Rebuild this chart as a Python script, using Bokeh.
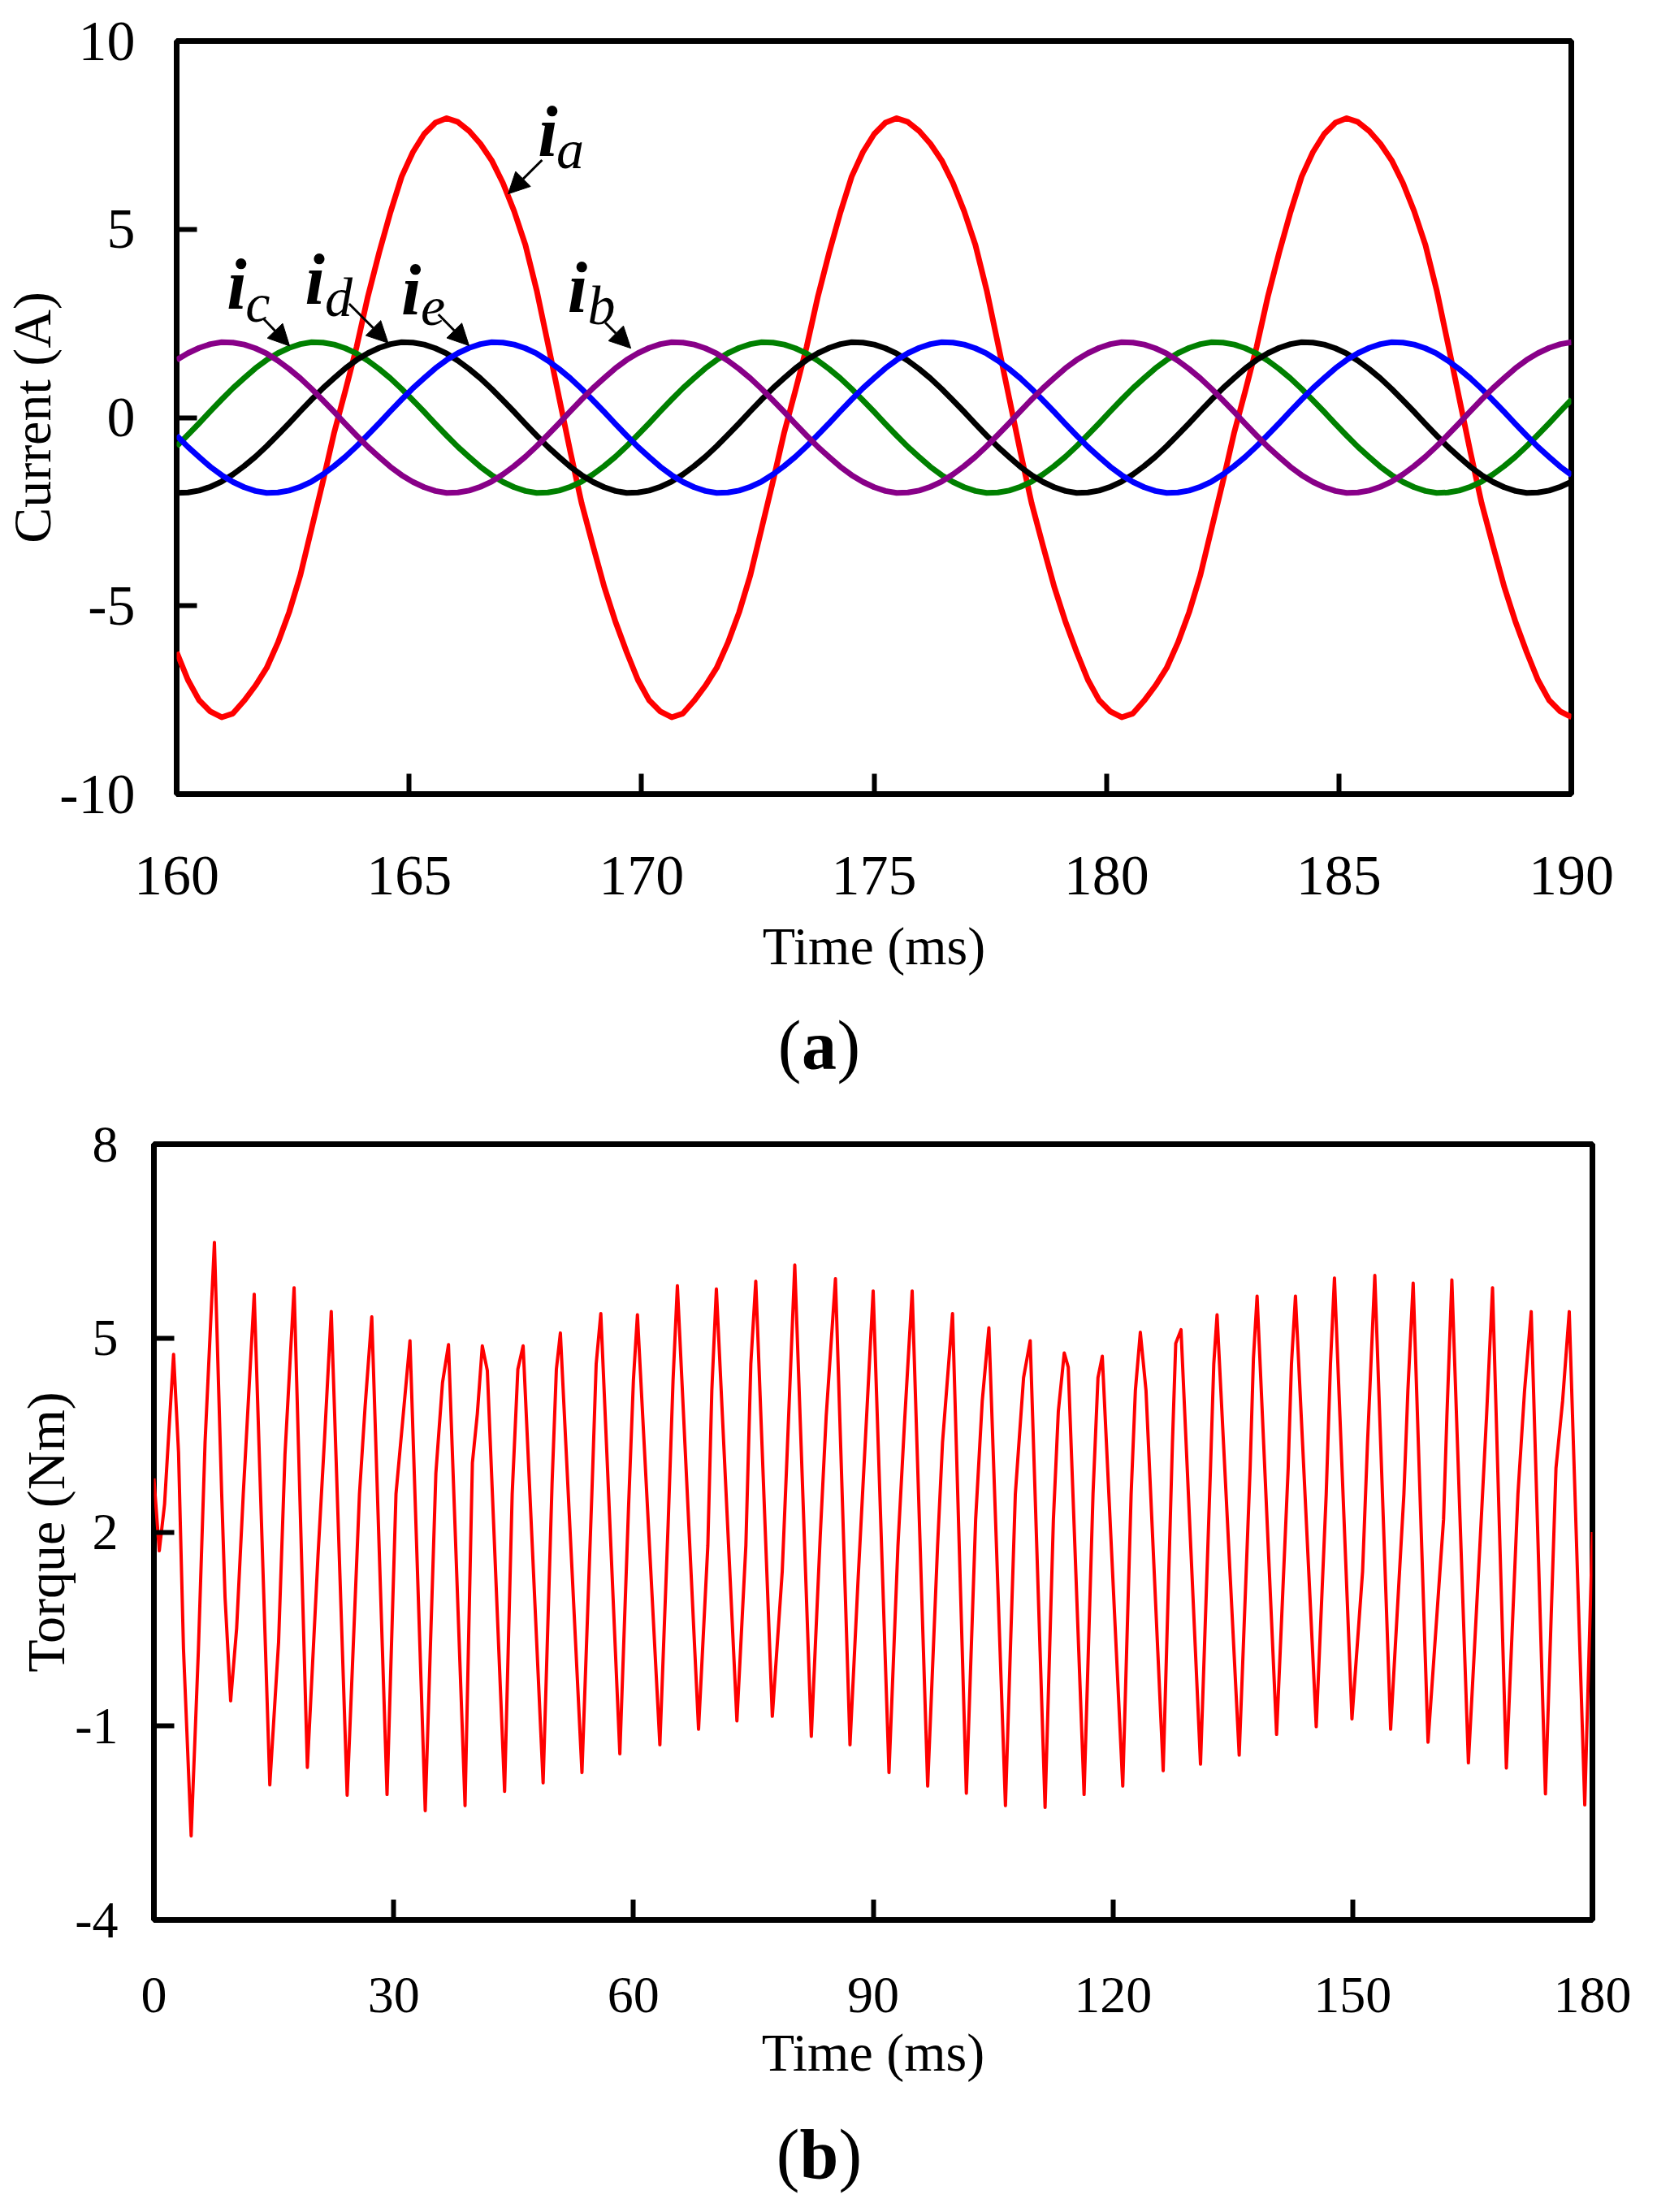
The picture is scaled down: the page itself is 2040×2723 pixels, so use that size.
"""
Five-phase machine: phase currents (a) and electromagnetic torque (b),
drawn as stacked Bokeh roots and written to out.html.
"""

from bokeh.core.properties import value
from bokeh.embed import file_html
from bokeh.models import Arrow, FixedTicker, Label, NormalHead, Range1d
from bokeh.plotting import figure
from bokeh.resources import INLINE

FONT = "Liberation Serif"
PAGE_W = 2024

# ---------------------------------------------------------------------------
# (a) phase currents, read every 0.242 ms off the trace
# ---------------------------------------------------------------------------
time_a = [
    160.000, 160.242, 160.484, 160.726, 160.968, 161.210, 161.452, 161.694, 161.936, 162.178,
    162.420, 162.662, 162.904, 163.146, 163.388, 163.630, 163.872, 164.114, 164.356, 164.598,
    164.840, 165.082, 165.324, 165.566, 165.808, 166.050, 166.292, 166.534, 166.776, 167.018,
    167.260, 167.502, 167.744, 167.986, 168.228, 168.470, 168.712, 168.954, 169.196, 169.438,
    169.680, 169.922, 170.164, 170.406, 170.648, 170.890, 171.132, 171.374, 171.616, 171.858,
    172.100, 172.342, 172.584, 172.826, 173.068, 173.310, 173.552, 173.794, 174.036, 174.278,
    174.520, 174.762, 175.004, 175.246, 175.488, 175.730, 175.972, 176.214, 176.456, 176.698,
    176.940, 177.182, 177.424, 177.666, 177.908, 178.150, 178.392, 178.634, 178.876, 179.118,
    179.360, 179.602, 179.844, 180.086, 180.328, 180.570, 180.812, 181.054, 181.296, 181.538,
    181.780, 182.022, 182.264, 182.506, 182.748, 182.990, 183.232, 183.474, 183.716, 183.958,
    184.200, 184.442, 184.684, 184.926, 185.168, 185.410, 185.652, 185.894, 186.136, 186.378,
    186.620, 186.862, 187.104, 187.346, 187.588, 187.830, 188.072, 188.314, 188.556, 188.798,
    189.040, 189.282, 189.524, 189.766, 190.008,
]
i_a = [
    -6.23, -6.97, -7.51, -7.81, -7.96, -7.86, -7.52, -7.12, -6.65, -5.98,
    -5.17, -4.18, -2.94, -1.70, -0.40, 0.72, 1.88, 3.22, 4.38, 5.45,
    6.40, 7.05, 7.53, 7.83, 7.95, 7.85, 7.61, 7.27, 6.83, 6.23,
    5.48, 4.58, 3.38, 1.96, 0.52, -0.92, -2.28, -3.40, -4.49, -5.42,
    -6.23, -6.97, -7.51, -7.81, -7.96, -7.86, -7.52, -7.12, -6.65, -5.98,
    -5.17, -4.18, -2.94, -1.70, -0.40, 0.72, 1.88, 3.22, 4.38, 5.45,
    6.40, 7.05, 7.53, 7.83, 7.95, 7.85, 7.61, 7.27, 6.83, 6.23,
    5.48, 4.58, 3.38, 1.96, 0.52, -0.92, -2.28, -3.40, -4.49, -5.42,
    -6.23, -6.97, -7.51, -7.81, -7.96, -7.86, -7.52, -7.12, -6.65, -5.98,
    -5.17, -4.18, -2.94, -1.70, -0.40, 0.72, 1.88, 3.22, 4.38, 5.45,
    6.40, 7.05, 7.53, 7.83, 7.95, 7.85, 7.61, 7.27, 6.83, 6.23,
    5.48, 4.58, 3.38, 1.96, 0.52, -0.92, -2.28, -3.40, -4.49, -5.42,
    -6.23, -6.97, -7.51, -7.81, -7.96,
]
i_b = [
    1.53, 1.71, 1.85, 1.95, 2.00, 1.99, 1.94, 1.84, 1.70, 1.51,
    1.29, 1.04, 0.76, 0.46, 0.15, -0.17, -0.48, -0.78, -1.05, -1.31,
    -1.53, -1.71, -1.85, -1.95, -2.00, -1.99, -1.94, -1.84, -1.70, -1.51,
    -1.29, -1.04, -0.76, -0.46, -0.15, 0.17, 0.48, 0.78, 1.05, 1.31,
    1.53, 1.71, 1.85, 1.95, 2.00, 1.99, 1.94, 1.84, 1.70, 1.51,
    1.29, 1.04, 0.76, 0.46, 0.15, -0.17, -0.48, -0.78, -1.05, -1.31,
    -1.53, -1.71, -1.85, -1.95, -2.00, -1.99, -1.94, -1.84, -1.70, -1.51,
    -1.29, -1.04, -0.76, -0.46, -0.15, 0.17, 0.48, 0.78, 1.05, 1.31,
    1.53, 1.71, 1.85, 1.95, 2.00, 1.99, 1.94, 1.84, 1.70, 1.51,
    1.29, 1.04, 0.76, 0.46, 0.15, -0.17, -0.48, -0.78, -1.05, -1.31,
    -1.53, -1.71, -1.85, -1.95, -2.00, -1.99, -1.94, -1.84, -1.70, -1.51,
    -1.29, -1.04, -0.76, -0.46, -0.15, 0.17, 0.48, 0.78, 1.05, 1.31,
    1.53, 1.71, 1.85, 1.95, 2.00,
]
i_c = [
    -0.76, -0.46, -0.15, 0.17, 0.48, 0.78, 1.05, 1.31, 1.53, 1.71,
    1.85, 1.95, 2.00, 1.99, 1.94, 1.84, 1.70, 1.51, 1.29, 1.04,
    0.76, 0.46, 0.15, -0.17, -0.48, -0.78, -1.05, -1.31, -1.53, -1.71,
    -1.85, -1.95, -2.00, -1.99, -1.94, -1.84, -1.70, -1.51, -1.29, -1.04,
    -0.76, -0.46, -0.15, 0.17, 0.48, 0.78, 1.05, 1.31, 1.53, 1.71,
    1.85, 1.95, 2.00, 1.99, 1.94, 1.84, 1.70, 1.51, 1.29, 1.04,
    0.76, 0.46, 0.15, -0.17, -0.48, -0.78, -1.05, -1.31, -1.53, -1.71,
    -1.85, -1.95, -2.00, -1.99, -1.94, -1.84, -1.70, -1.51, -1.29, -1.04,
    -0.76, -0.46, -0.15, 0.17, 0.48, 0.78, 1.05, 1.31, 1.53, 1.71,
    1.85, 1.95, 2.00, 1.99, 1.94, 1.84, 1.70, 1.51, 1.29, 1.04,
    0.76, 0.46, 0.15, -0.17, -0.48, -0.78, -1.05, -1.31, -1.53, -1.71,
    -1.85, -1.95, -2.00, -1.99, -1.94, -1.84, -1.70, -1.51, -1.29, -1.04,
    -0.76, -0.46, -0.15, 0.17, 0.48,
]
i_d = [
    -2.00, -1.99, -1.94, -1.84, -1.70, -1.51, -1.29, -1.04, -0.76, -0.46,
    -0.15, 0.17, 0.48, 0.78, 1.05, 1.31, 1.53, 1.71, 1.85, 1.95,
    2.00, 1.99, 1.94, 1.84, 1.70, 1.51, 1.29, 1.04, 0.76, 0.46,
    0.15, -0.17, -0.48, -0.78, -1.05, -1.31, -1.53, -1.71, -1.85, -1.95,
    -2.00, -1.99, -1.94, -1.84, -1.70, -1.51, -1.29, -1.04, -0.76, -0.46,
    -0.15, 0.17, 0.48, 0.78, 1.05, 1.31, 1.53, 1.71, 1.85, 1.95,
    2.00, 1.99, 1.94, 1.84, 1.70, 1.51, 1.29, 1.04, 0.76, 0.46,
    0.15, -0.17, -0.48, -0.78, -1.05, -1.31, -1.53, -1.71, -1.85, -1.95,
    -2.00, -1.99, -1.94, -1.84, -1.70, -1.51, -1.29, -1.04, -0.76, -0.46,
    -0.15, 0.17, 0.48, 0.78, 1.05, 1.31, 1.53, 1.71, 1.85, 1.95,
    2.00, 1.99, 1.94, 1.84, 1.70, 1.51, 1.29, 1.04, 0.76, 0.46,
    0.15, -0.17, -0.48, -0.78, -1.05, -1.31, -1.53, -1.71, -1.85, -1.95,
    -2.00, -1.99, -1.94, -1.84, -1.70,
]
i_e = [
    -0.48, -0.78, -1.05, -1.31, -1.53, -1.71, -1.85, -1.95, -2.00, -1.99,
    -1.94, -1.84, -1.70, -1.51, -1.29, -1.04, -0.76, -0.46, -0.15, 0.17,
    0.48, 0.78, 1.05, 1.31, 1.53, 1.71, 1.85, 1.95, 2.00, 1.99,
    1.94, 1.84, 1.70, 1.51, 1.29, 1.04, 0.76, 0.46, 0.15, -0.17,
    -0.48, -0.78, -1.05, -1.31, -1.53, -1.71, -1.85, -1.95, -2.00, -1.99,
    -1.94, -1.84, -1.70, -1.51, -1.29, -1.04, -0.76, -0.46, -0.15, 0.17,
    0.48, 0.78, 1.05, 1.31, 1.53, 1.71, 1.85, 1.95, 2.00, 1.99,
    1.94, 1.84, 1.70, 1.51, 1.29, 1.04, 0.76, 0.46, 0.15, -0.17,
    -0.48, -0.78, -1.05, -1.31, -1.53, -1.71, -1.85, -1.95, -2.00, -1.99,
    -1.94, -1.84, -1.70, -1.51, -1.29, -1.04, -0.76, -0.46, -0.15, 0.17,
    0.48, 0.78, 1.05, 1.31, 1.53, 1.71, 1.85, 1.95, 2.00, 1.99,
    1.94, 1.84, 1.70, 1.51, 1.29, 1.04, 0.76, 0.46, 0.15, -0.17,
    -0.48, -0.78, -1.05, -1.31, -1.53,
]
x_ticks_a = [160, 165, 170, 175, 180, 185, 190]
y_ticks_a = [-10, -5, 0, 5, 10]

# ---------------------------------------------------------------------------
# (b) torque: extrema and visible shoulders of the trace
# ---------------------------------------------------------------------------
time_b = [
    0.00, 0.67, 1.33, 1.83, 2.46, 3.08, 3.70, 4.66, 5.57, 6.40,
    7.57, 8.48, 8.90, 9.60, 10.35, 11.18, 12.55, 14.50, 15.60, 16.40,
    17.54, 19.20, 20.53, 21.36, 22.19, 24.18, 25.72, 26.43, 27.26, 29.17,
    30.29, 31.12, 32.04, 33.95, 35.28, 36.11, 36.86, 38.93, 39.85, 40.47,
    41.09, 41.72, 43.88, 44.83, 45.54, 46.20, 48.70, 49.82, 50.36, 50.86,
    53.56, 54.80, 55.34, 55.92, 58.30, 59.38, 60.00, 60.50, 63.31, 64.34,
    64.96, 65.50, 68.15, 69.31, 69.81, 70.38, 72.95, 74.07, 74.69, 75.31,
    77.38, 78.62, 79.16, 80.19, 82.26, 83.38, 84.12, 85.28, 87.10, 88.13,
    88.84, 90.00, 91.98, 93.10, 93.93, 94.88, 96.82, 98.06, 98.68, 99.93,
    101.66, 102.82, 103.65, 104.48, 106.55, 107.79, 108.82, 109.65, 111.51, 112.55,
    113.17, 113.91, 114.41, 116.39, 117.51, 118.13, 118.67, 121.23, 122.28, 122.81,
    123.43, 124.14, 126.29, 127.45, 127.86, 128.52, 130.96, 132.21, 132.62, 133.03,
    135.80, 137.17, 137.58, 138.04, 140.48, 141.93, 142.34, 142.84, 145.44, 146.69,
    147.22, 147.72, 149.91, 151.24, 151.86, 152.77, 154.75, 156.41, 156.91, 157.57,
    159.43, 161.37, 161.79, 162.41, 164.48, 165.92, 166.75, 167.50, 169.23, 170.68,
    171.51, 172.34, 174.12, 175.44, 176.27, 177.10, 179.04, 180.00,
]
torque_b = [
    2.83, 1.71, 2.43, 3.47, 4.75, 3.23, 0.19, -2.70, 0.19, 3.39,
    6.48, 2.59, 0.99, -0.61, 0.51, 2.59, 5.68, -1.91, 0.30, 3.20,
    5.78, -1.64, 1.63, 3.47, 5.41, -2.07, 2.59, 3.95, 5.33, -2.06,
    2.59, 3.71, 4.96, -2.31, 2.91, 4.31, 4.90, -2.23, 3.07, 3.83,
    4.88, 4.50, -2.01, 2.59, 4.52, 4.88, -1.88, 2.75, 4.52, 5.08,
    -1.72, 2.59, 4.60, 5.38, -1.43, 2.35, 4.35, 5.36, -1.29, 2.11,
    4.35, 5.81, -1.05, 1.79, 4.19, 5.76, -0.92, 1.79, 4.60, 5.88,
    -0.85, 1.39, 2.99, 6.13, -1.16, 1.95, 3.79, 5.92, -1.29, 1.31,
    2.99, 5.73, -1.72, 1.79, 3.71, 5.73, -1.93, 1.79, 3.39, 5.38,
    -2.04, 2.19, 4.03, 5.16, -2.23, 2.59, 4.39, 4.96, -2.26, 2.19,
    3.87, 4.77, 4.55, -2.06, 2.59, 4.39, 4.72, -1.93, 2.59, 4.19,
    5.09, 4.19, -1.69, 3.39, 4.92, 5.13, -1.59, 2.99, 4.60, 5.36,
    -1.45, 2.99, 4.68, 5.65, -1.13, 2.99, 4.60, 5.65, -1.01, 2.59,
    4.60, 5.93, -0.89, 1.39, 3.39, 5.97, -1.05, 2.59, 4.19, 5.85,
    -1.25, 2.19, 3.79, 5.90, -1.57, 1.79, 3.79, 5.78, -1.65, 2.59,
    4.19, 5.41, -2.05, 2.99, 4.03, 5.41, -2.22, 2.00,
]
x_ticks_b = [0, 30, 60, 90, 120, 150, 180]
y_ticks_b = [-4, -1, 2, 5, 8]


# ---------------------------------------------------------------------------
# Helpers
# ---------------------------------------------------------------------------

def _labels(ticks):
    # plain hyphen for negatives, as on the original axes
    return {t: str(t) for t in ticks}


def _style(fig, x_ticks, y_ticks, tick_size, x_standoff, x_label_standoff,
           y_standoff, y_label_standoff):
    fig.grid.visible = False
    fig.background_fill_color = "white"
    fig.border_fill_color = "white"
    fig.outline_line_color = "black"
    fig.outline_line_width = 7
    fig.xaxis.ticker = FixedTicker(ticks=x_ticks)
    fig.yaxis.ticker = FixedTicker(ticks=y_ticks)
    fig.xaxis.major_label_overrides = _labels(x_ticks)
    fig.yaxis.major_label_overrides = _labels(y_ticks)
    for ax in (fig.xaxis, fig.yaxis):
        ax.axis_line_color = None
        ax.major_tick_in = 25
        ax.major_tick_out = 0
        ax.major_tick_line_width = 6
        ax.major_tick_line_color = "black"
        ax.minor_tick_line_color = None
        ax.major_label_text_font = FONT
        ax.major_label_text_font_size = tick_size
        ax.major_label_text_color = "black"
        ax.axis_label_text_font = FONT
        ax.axis_label_text_font_size = "66px"
        ax.axis_label_text_font_style = "normal"
        ax.axis_label_text_color = "black"
    fig.xaxis.major_label_standoff = x_standoff
    fig.xaxis.axis_label_standoff = x_label_standoff
    fig.yaxis.major_label_standoff = y_standoff
    fig.yaxis.axis_label_standoff = y_label_standoff


def _phase_tag(fig, ix, iy, sub, sx, sy, arrow):
    # iy / sy are the vertical middles of the glyphs
    fig.add_layout(Label(x=ix, y=iy, text="i", text_font=FONT,
                         text_font_size="88px", text_font_style="bold italic",
                         text_color="black", text_baseline="middle"))
    fig.add_layout(Label(x=sx, y=sy, text=sub, text_font=FONT,
                         text_font_size="68px", text_font_style="italic",
                         text_color="black", text_baseline="middle"))
    x0, y0, x1, y1 = arrow
    fig.add_layout(Arrow(
        end=NormalHead(size=26, line_color="black", fill_color="black",
                       line_width=1),
        x_start=x0, y_start=y0, x_end=x1, y_end=y1,
        line_color="black", line_width=3,
    ))


def build_currents():
    p = figure(
        width=PAGE_W, height=1232,
        x_range=Range1d(160, 190), y_range=Range1d(-10, 10),
        x_axis_label="Time (ms)", y_axis_label="Current (A)",
        min_border_left=210, min_border_right=90,
        min_border_top=50, min_border_bottom=255,
        output_backend="svg", toolbar_location=None,
    )
    _style(p, x_ticks_a, y_ticks_a, "70px", x_standoff=77, x_label_standoff=24,
           y_standoff=51, y_label_standoff=-6)

    p.line(time_a, i_a, line_color="#ff0000", line_width=7, line_join="round")
    p.line(time_a, i_c, line_color="#008000", line_width=7, line_join="round")
    p.line(time_a, i_d, line_color="black", line_width=7, line_join="round")
    p.line(time_a, i_e, line_color="#0000ff", line_width=7, line_join="round")
    p.line(time_a, i_b, line_color="#880088", line_width=7, line_join="round")

    _phase_tag(p, 167.77, 7.58, "a", 168.17, 7.11, (167.86, 6.84, 167.13, 5.94))
    _phase_tag(p, 161.08, 3.53, "c", 161.48, 3.05, (161.87, 2.62, 162.43, 1.90))
    _phase_tag(p, 162.76, 3.66, "d", 163.19, 3.19, (163.71, 3.02, 164.55, 1.98))
    _phase_tag(p, 164.83, 3.38, "e", 165.25, 2.94, (165.63, 2.74, 166.29, 1.91))
    _phase_tag(p, 168.41, 3.45, "b", 168.84, 2.98, (169.22, 2.52, 169.77, 1.84))
    return p


def build_torque():
    p = figure(
        width=PAGE_W, height=1220,
        x_range=Range1d(0, 180), y_range=Range1d(-4, 8),
        x_axis_label="Time (ms)", y_axis_label="Torque (Nm)",
        min_border_left=189, min_border_right=64,
        min_border_top=46, min_border_bottom=219,
        output_backend="svg", toolbar_location=None,
    )
    _style(p, x_ticks_b, y_ticks_b, "64px", x_standoff=71, x_label_standoff=10,
           y_standoff=44, y_label_standoff=-4)

    p.line(time_b, torque_b, line_color="#ff0000", line_width=4,
           line_join="round")
    return p


def build_caption(letter, height, middle, half):
    # "(a)" / "(b)" under each panel: bold letter, plain brackets
    p = figure(
        width=PAGE_W, height=height,
        x_range=Range1d(0, PAGE_W), y_range=Range1d(0, height),
        x_axis_location=None, y_axis_location=None, min_border=0,
        output_backend="svg", toolbar_location=None,
    )
    p.grid.visible = False
    p.outline_line_color = None
    common = dict(y=[middle], text_font=value(FONT), text_font_size="86px",
                  text_color="black", text_baseline="middle")
    cx = 1008
    p.text(x=[cx - half], text=["("], text_align="right", **common)
    p.text(x=[cx], text=[letter], text_align="center", text_font_style="bold",
           **common)
    p.text(x=[cx + half], text=[")"], text_align="left", **common)
    return p


def main() -> None:
    roots = [
        build_currents(),
        build_caption("a", 130, 76, 22),
        build_torque(),
        build_caption("b", 125, 56, 24),
    ]
    open("out.html", "w").write(file_html(roots, INLINE))


if __name__ == "__main__":
    main()
